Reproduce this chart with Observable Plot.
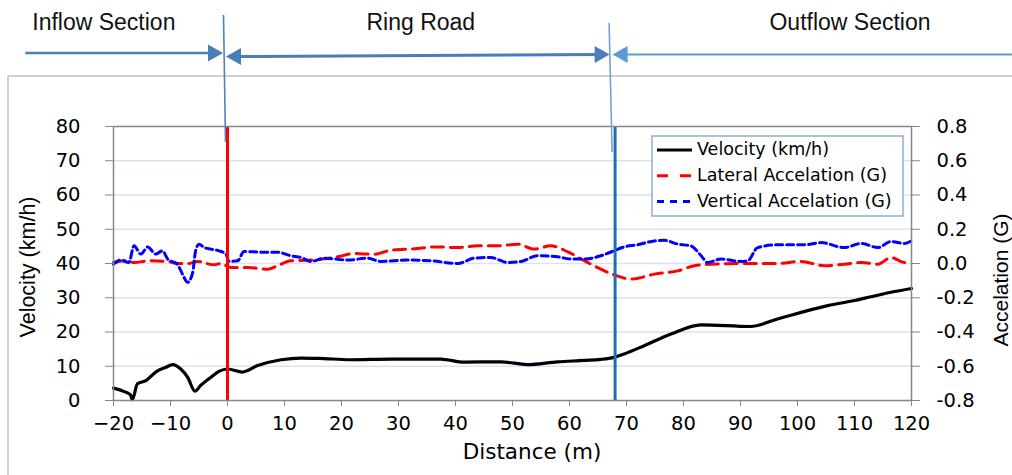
<!DOCTYPE html>
<html><head><meta charset="utf-8">
<script src="https://cdn.jsdelivr.net/npm/d3@7"></script>
<script src="https://cdn.jsdelivr.net/npm/@observablehq/plot@0.6"></script>
<style>body{margin:0;background:#fff;} #chart svg{display:block;}</style>
</head><body><div id="chart"></div>
<script>
// ---- data ----
const velDist = [-20, -18.1, -17.0, -16.7, -15.8,
  -14.3, -12.6, -10.8, -9.6, -8.2,
  -7.0, -5.7, -4.7, -2.9, -1.5,
  0, 2.6, 5.3, 9.4, 12.9,
  16, 21.6, 28.7, 37.4, 41.5,
  48.0, 52.6, 57.9, 62.6, 65.5,
  67.8, 69.6, 73.1, 77.8, 83.1,
  91.8, 96.5, 105.3, 110.0, 112.9,
  116.4, 120];
const velocity = [3.6, 2.6, 1.6, 0.2, 4.9,
  5.8, 8.3, 9.7, 10.5, 9.2,
  6.8, 2.7, 4.4, 6.8, 8.5,
  9.2, 8.3, 10.2, 11.9, 12.4,
  12.3, 11.9, 12.1, 12.1, 11.2,
  11.3, 10.5, 11.3, 11.7, 12.0,
  12.6, 13.6, 16.0, 19.4, 22.1,
  21.6, 23.8, 27.7, 29.2, 30.3,
  31.6, 32.7];

const latDist = [-20, -18.1, -16.4, -13.7, -10.5,
  -8.8, -6.7, -5.3, -2.3, -1.2,
  0.6, 3.5, 7.0, 8.8, 11.1,
  14.6, 19.3, 22.2, 25.7, 28.7,
  33.3, 36.3, 40.4, 43.9, 47.4,
  50.9, 53.8, 56.7, 59.6, 62.6,
  65.5, 67.8, 70.8, 74.9, 79.0,
  81.9, 84.8, 90.7, 96.5, 100.6,
  104.7, 108.2, 111.2, 114.1, 116.4,
  118.8, 120];
const lateralAcc = [0.006, 0.016, 0.006, 0.016, 0.012,
  0, 0, 0.012, -0.008, 0,
  -0.023, -0.023, -0.033, -0.013, 0.016,
  0.02, 0.039, 0.058, 0.054, 0.078,
  0.087, 0.097, 0.093, 0.103, 0.103,
  0.113, 0.084, 0.103, 0.07, 0.016,
  -0.033, -0.066, -0.091, -0.062, -0.043,
  -0.013, -0.004, 0, 0, 0.012,
  -0.013, -0.004, 0.006, -0.004, 0.035,
  0.006, 0.006];

const vertDist = [-20, -18.7, -17.3, -16.4, -15.2,
  -14.0, -12.6, -11.4, -10.5, -8.8,
  -7.9, -7.0, -6.1, -5.6, -5.0,
  -4.1, -2.9, -1.5, -0.3, 0.3,
  1.8, 2.9, 6.4, 8.8, 11.1,
  12.9, 14.6, 17.0, 21.1, 24.6,
  26.9, 31.6, 35.7, 40.4, 43.3,
  46.2, 49.1, 51.5, 54.4, 57.9,
  60.2, 62.6, 65.5, 67.8, 69.6,
  71.9, 74.9, 76.6, 79.0, 81.3,
  83.1, 84.2, 86.6, 90.1, 91.3,
  93.0, 96.5, 101.2, 104.1, 108.2,
  111.2, 114.1, 116.4, 118.8, 120];
const verticalAcc = [-0.004, 0.02, 0.006, 0.103, 0.055,
  0.097, 0.055, 0.074, 0.026, -0.004,
  -0.062, -0.11, -0.052, 0.074, 0.113,
  0.093, 0.084, 0.074, 0.055, 0.012,
  0.016, 0.07, 0.066, 0.066, 0.045,
  0.035, 0.012, 0.031, 0.02, 0.031,
  0.012, 0.02, 0.016, 0.0, 0.031,
  0.035, 0.006, 0.012, 0.045, 0.039,
  0.026, 0.026, 0.045, 0.074, 0.097,
  0.109, 0.132, 0.136, 0.113, 0.103,
  0.045, 0.006, 0.026, 0.012, 0.016,
  0.093, 0.109, 0.109, 0.122, 0.093,
  0.117, 0.093, 0.128, 0.117, 0.132];

const xTicks = [-20, -10, 0, 10, 20, 30, 40, 50, 60, 70, 80, 90, 100, 110, 120];
const velTicks = [0, 10, 20, 30, 40, 50, 60, 70, 80];
const accTicks = [-0.8, -0.6, -0.4, -0.2, 0.0, 0.2, 0.4, 0.6, 0.8];
const boundaries = [0, 68];

const seriesNames = ["Velocity (km/h)", "Lateral Accelation (G)", "Vertical Accelation (G)"];

const sectionNames = ["Inflow Section", "Ring Road", "Outflow Section"];
const sectionFrom = [-35.4, 0, 68];
const sectionTo = [0, 68, 137.7];
const sectionLabelAt = [-21.6, 34, 109.3];

// ---- helpers ----
const toVel = a => 40 + a * 50;   // acceleration axis (-0.8..0.8) onto velocity axis (0..80)
const velRows = velDist.map((d, i) => ({d, v: velocity[i]}));
const latRows = latDist.map((d, i) => ({d, v: toVel(lateralAcc[i])}));
const vertRows = vertDist.map((d, i) => ({d, v: toVel(verticalAcc[i])}));

const axisColor = "#878787";
const plot = Plot.plot({
  width: 1012, height: 475,
  marginLeft: 113, marginRight: 101, marginTop: 126, marginBottom: 75,
  style: {fontFamily: "'DejaVu Sans', Verdana, sans-serif", fontSize: "19.5px", color: "#000", background: "#fff", overflow: "visible"},
  x: {domain: [-20, 120]},
  y: {domain: [0, 80]},
  marks: [
    Plot.gridY(velTicks.filter(t => t > 0 && t < 80), {stroke: "#d9e1f2", strokeOpacity: 1, strokeWidth: 1.5}),
    Plot.line(velRows, {x: "d", y: "v", stroke: "#000", strokeWidth: 3.2, curve: "monotone-x"}),
    Plot.line(latRows, {x: "d", y: "v", stroke: "#ff0000", strokeWidth: 3, strokeDasharray: "12,7", curve: "monotone-x"}),
    Plot.line(vertRows, {x: "d", y: "v", stroke: "#0000ff", strokeWidth: 3, strokeDasharray: "7,4", curve: "monotone-x"}),
    Plot.ruleX([boundaries[0]], {stroke: "#ff0000", strokeWidth: 3}),
    Plot.ruleX([boundaries[1]], {stroke: "#1f6db3", strokeWidth: 3}),
    Plot.frame({stroke: axisColor, strokeWidth: 1.5}),
    Plot.axisX(xTicks, {tickSize: 6, tickPadding: 10, stroke: axisColor, label: null}),
    Plot.axisY(velTicks, {anchor: "left", tickSize: 8, tickPadding: 25, stroke: axisColor, label: null}),
    Plot.axisY(accTicks.map(toVel), {anchor: "right", tickSize: 8, tickPadding: 17, stroke: axisColor, label: null,
      tickFormat: v => ((v - 40) / 50).toFixed(1)})
  ]
});
document.getElementById("chart").append(plot);

// ---- overlays (using the plot's own scales) ----
const svg = d3.select(plot);
const xs = plot.scale("x");
const X = v => xs.apply(v);

// outer chart border
const g0 = svg.append("g").attr("stroke", "#c0c0c0").attr("stroke-width", 1.5);
g0.append("line").attr("x1", 8).attr("y1", 76).attr("x2", 1012).attr("y2", 76);
g0.append("line").attr("x1", 8).attr("y1", 76).attr("x2", 8).attr("y2", 475);

// axis titles
svg.append("text").text("Velocity (km/h)")
  .attr("transform", "translate(29,267) rotate(-90)")
  .attr("text-anchor", "middle").attr("dominant-baseline", "middle")
  .style("font-family", "'Liberation Sans', Arial, sans-serif").style("font-size", "21.5px");
svg.append("text").text("Accelation (G)")
  .attr("transform", "translate(1002,280) rotate(-90)")
  .attr("text-anchor", "middle").attr("dominant-baseline", "middle")
  .style("font-family", "'Liberation Sans', Arial, sans-serif").style("font-size", "21px");
svg.append("text").text("Distance (m)")
  .attr("x", 532).attr("y", 459).attr("text-anchor", "middle")
  .style("font-family", "'DejaVu Sans', Verdana, sans-serif").style("font-size", "21.5px");

// legend
const lg = svg.append("g");
lg.append("rect").attr("x", 652).attr("y", 136).attr("width", 251).attr("height", 80)
  .attr("fill", "#fff").attr("stroke", "#8eaadb").attr("stroke-width", 1.5);
const legendStyles = [
  {stroke: "#000", dash: null},
  {stroke: "#ff0000", dash: "11,12"},
  {stroke: "#0000ff", dash: "7,6"}
];
seriesNames.forEach((name, i) => {
  const y = 150 + i * 25.8;
  lg.append("line").attr("x1", 657).attr("x2", 692).attr("y1", y).attr("y2", y)
    .attr("stroke", legendStyles[i].stroke).attr("stroke-width", 3)
    .attr("stroke-dasharray", legendStyles[i].dash);
  lg.append("text").text(name).attr("x", 697).attr("y", y)
    .attr("text-anchor", "start").attr("dominant-baseline", "middle")
    .style("font-family", "'DejaVu Sans', Verdana, sans-serif").style("font-size", "17.5px");
});

// header: section labels, boundary lines, arrows
const hg = svg.append("g");
sectionNames.forEach((name, i) => {
  hg.append("text").text(name).attr("x", X(sectionLabelAt[i])).attr("y", 30)
    .attr("text-anchor", "middle")
    .style("font-family", "'Liberation Sans', Arial, sans-serif").style("font-size", "23px").style("fill", "#111");
});
// thin boundary markers
hg.append("line").attr("x1", X(boundaries[0]) - 3.5).attr("y1", 15).attr("x2", X(boundaries[0]) - 1.5).attr("y2", 142)
  .attr("stroke", "#4f81bd").attr("stroke-width", 1.6);
hg.append("line").attr("x1", X(boundaries[1]) - 5.5).attr("y1", 23).attr("x2", X(boundaries[1]) - 2.5).attr("y2", 152)
  .attr("stroke", "#6fa3da").attr("stroke-width", 1.6);

function head(tipX, y, dir, color) { // dir: +1 pointing right, -1 pointing left
  const L = 15, H = 8.5;
  hg.append("path").attr("d", `M${tipX},${y} L${tipX - dir * L},${y - H} L${tipX - dir * L},${y + H} Z`).attr("fill", color);
}
const c1 = "#4a7ebb", c3 = "#5b9bd5";
// inflow arrow (points right to ring road)
{
  const y = 53, x1 = X(sectionFrom[0]), tip = X(sectionTo[0]) - 4;
  hg.append("line").attr("x1", x1).attr("x2", tip - 10).attr("y1", y).attr("y2", y).attr("stroke", c1).attr("stroke-width", 2.5);
  head(tip, y, 1, c1);
}
// ring road double arrow
{
  const y = 55.5, a = X(sectionFrom[1]) - 1, b = X(sectionTo[1]) - 5;
  hg.append("line").attr("x1", a + 10).attr("x2", b - 10).attr("y1", y + 1).attr("y2", y - 1).attr("stroke", c1).attr("stroke-width", 3);
  head(a, y + 1, -1, c1);
  head(b, y - 1, 1, c1);
}
// outflow arrow (points left to ring road)
{
  const y = 54.5, tip = X(sectionFrom[2]) - 2, x2 = X(sectionTo[2]);
  hg.append("line").attr("x1", tip + 10).attr("x2", x2).attr("y1", y).attr("y2", y).attr("stroke", c3).attr("stroke-width", 2);
  head(tip, y, -1, c3);
}
</script>
</body></html>
